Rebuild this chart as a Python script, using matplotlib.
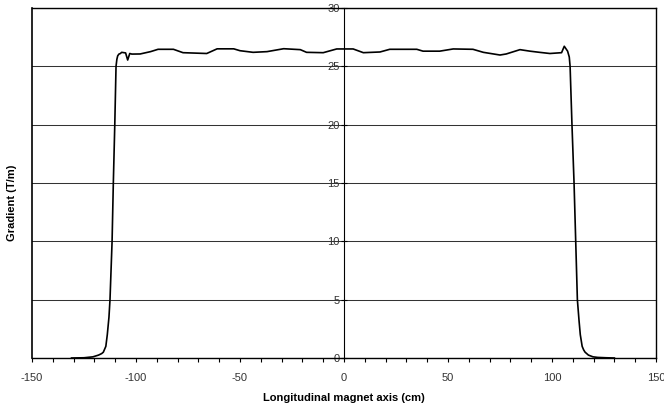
import numpy as np
import matplotlib.pyplot as plt
from matplotlib.ticker import MultipleLocator

plt.rcParams['font.family'] = ['Liberation Sans', 'DejaVu Sans']
plt.rcParams['axes.unicode_minus'] = False

# position along magnet (cm) and measured gradient (T/m)
pos = [-131, -125, -120.7, -118, -116.5, -115.7, -114.5, -113.8, -113, -112.5, -111.5,
       -110.9, -110.2, -109.6, -109.2, -108.8, -108.2, -107.5, -106.9, -105, -104, -103,
       -102, -98, -93, -89.4, -82, -77.4, -66, -61, -53, -50,
       -43.7, -37, -29, -21, -18, -10, -3.5, 4.4, 9.3, 17.3,
       22, 35, 38, 46, 52.5, 62, 67, 75, 78, 84.6,
       89.4, 94, 99, 104.6, 105.9, 107.5, 108.3, 108.7, 109.6, 110.6,
       111.4, 112.2, 113, 113.6, 114.5, 115.2, 115.9, 117.5, 119.7, 122, 126, 130]
grad = [0, 0.02, 0.1, 0.25, 0.38, 0.5, 1.0, 2.0, 3.5, 5.0, 10,
        15, 20, 25, 25.6, 25.9, 26.05, 26.1, 26.2, 26.15, 25.54, 26.1,
        26.05, 26.06, 26.26, 26.46, 26.46, 26.17, 26.1, 26.5, 26.5, 26.34,
        26.2, 26.26, 26.51, 26.43, 26.2, 26.17, 26.49, 26.49, 26.17, 26.23,
        26.46, 26.46, 26.3, 26.3, 26.49, 26.46, 26.2, 25.97, 26.06, 26.43,
        26.3, 26.2, 26.1, 26.17, 26.72, 26.3, 25.8, 25, 20, 15,
        10, 5, 3.2, 2.0, 1.0, 0.7, 0.5, 0.25, 0.1, 0.05, 0.02, 0]

fig = plt.figure(figsize=(6.64, 4.05), dpi=100)
ax = fig.add_axes([32/664, 47/405, 624/664, 350/405])

ax.plot(pos, grad, color="black", lw=1.2)

ax.set_xlim(-150, 150)
ax.set_ylim(0, 30)
ax.xaxis.set_major_locator(MultipleLocator(50))
ax.xaxis.set_minor_locator(MultipleLocator(10))
ax.yaxis.set_major_locator(MultipleLocator(5))
ax.grid(axis="y", color="#333333", lw=0.75)
ax.set_axisbelow(True)

# y axis drawn through x=0, frame kept on the left
ax.spines["left"].set_position(("data", 0))
ax.axvline(-150, color="black", lw=1.2, clip_on=False)
for s in ["top", "right", "bottom"]:
    ax.spines[s].set_linewidth(1.0)
ax.spines["left"].set_linewidth(0.8)

ax.tick_params(axis="x", which="both", direction="out", length=3, width=0.8,
               labelsize=8, labelcolor="#333333", pad=8)
ax.tick_params(axis="y", direction="inout", length=4, width=0.8,
               labelsize=8, labelcolor="#333333", pad=1)

ax.set_xlabel("Longitudinal magnet axis (cm)", fontsize=8, fontweight="bold", labelpad=7)
fig.text(12/664, 0.5, "Gradient (T/m)", rotation=90, fontsize=8,
         fontweight="bold", ha="center", va="center")

fig.savefig("out.png", dpi=100)
